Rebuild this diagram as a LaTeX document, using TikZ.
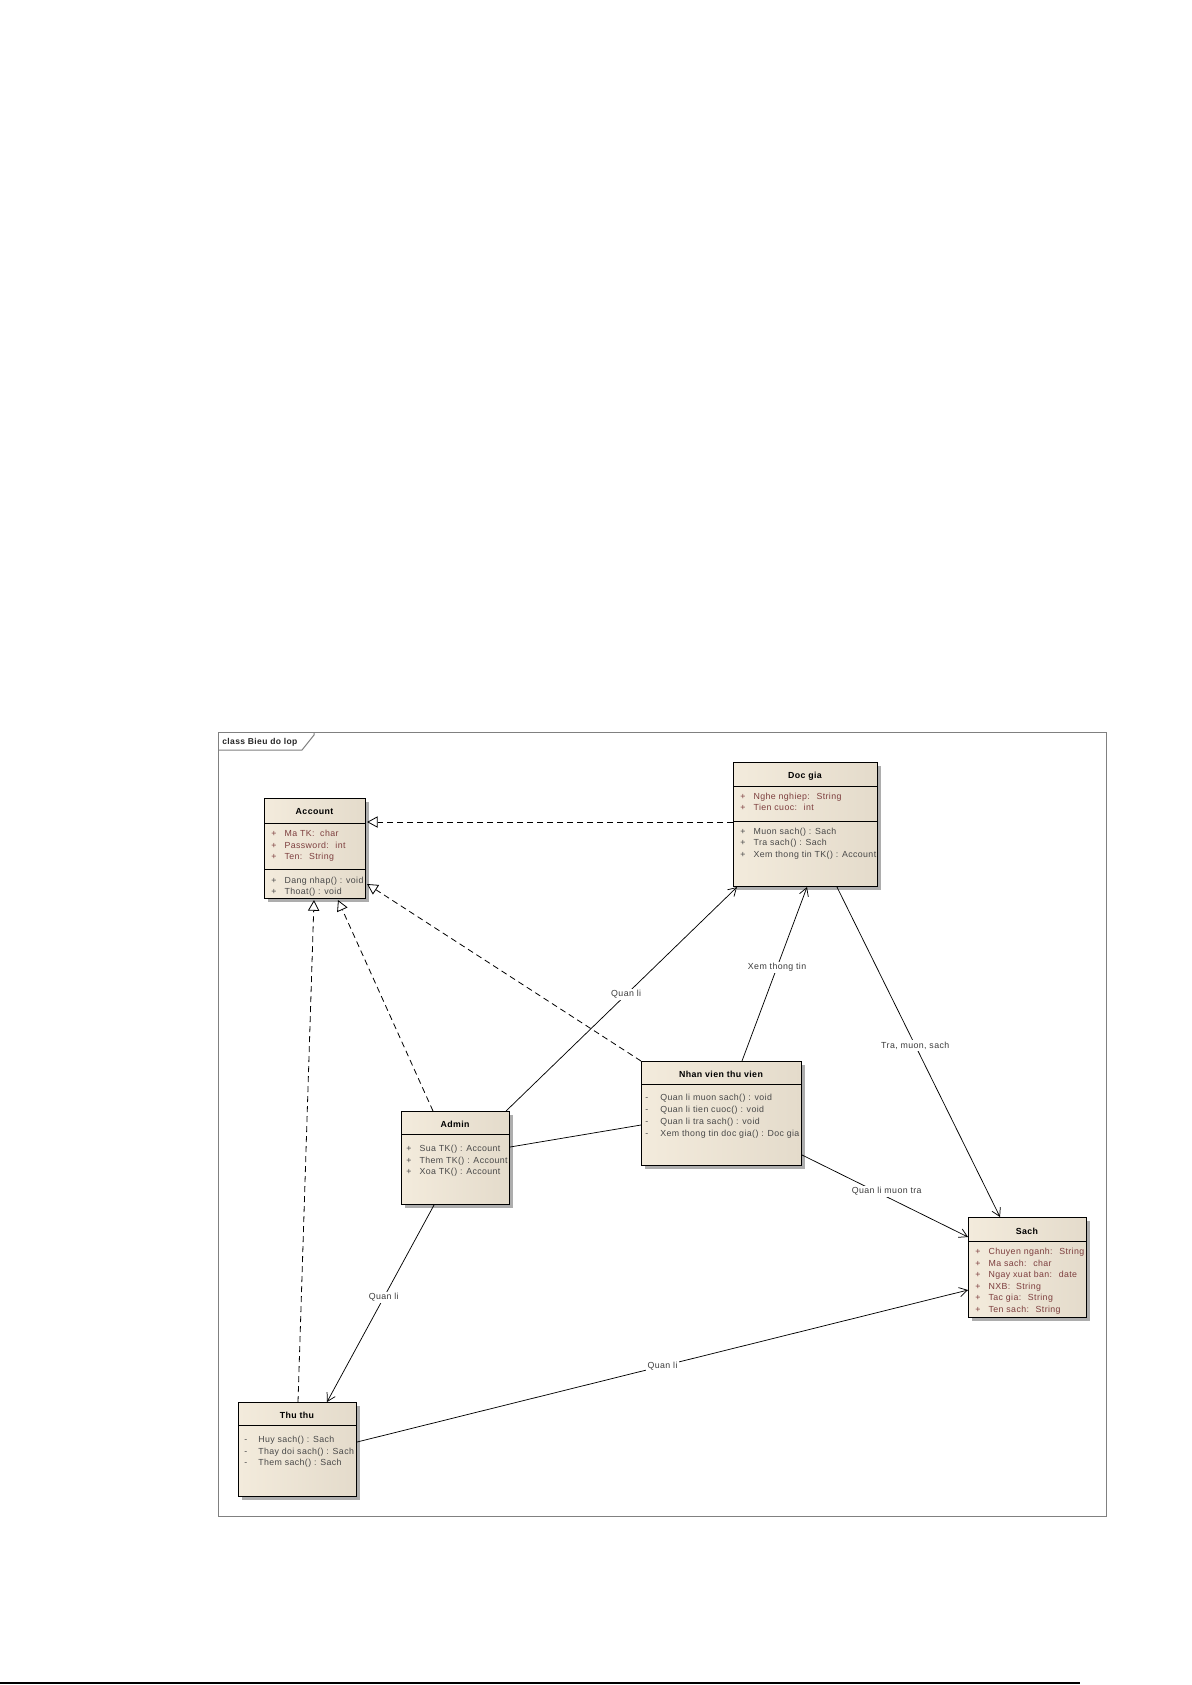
\documentclass[tikz,border=0pt]{standalone}
\usepackage{fontspec}
\setmainfont{Liberation Sans}[LetterSpace=4.5]
\usetikzlibrary{arrows.meta,shadows,calc}
\definecolor{boxL}{RGB}{243,235,220}
\definecolor{boxM}{RGB}{250,244,233}
\definecolor{boxR}{RGB}{228,219,203}
\definecolor{attrc}{RGB}{125,62,62}
\definecolor{opc}{RGB}{72,72,72}
\definecolor{framec}{RGB}{128,128,128}
\definecolor{labc}{RGB}{60,60,60}
\tikzset{
  cls/.style={draw=black, line width=0.8pt, rectangle, anchor=north west, inner sep=0pt,
    left color=boxL, middle color=boxM, right color=boxR,
    drop shadow={shadow xshift=2.6pt, shadow yshift=-2.6pt, fill=black!40, opacity=0.8}},
  cname/.style={font=\fontsize{6.6}{7}\selectfont\bfseries, text=black, inner sep=0pt, anchor=mid},
  attrrow/.style={font=\fontsize{6.6}{7}\selectfont, text=attrc, inner sep=0pt, anchor=mid west},
  oprow/.style={font=\fontsize{6.6}{7}\selectfont, text=opc, inner sep=0pt, anchor=mid west},
  sepline/.style={draw=black, line width=0.7pt},
  assoc/.style={draw=black, line width=0.55pt, -{Straight Barb[length=6pt,width=7pt,line width=0.55pt]}},
  plainassoc/.style={draw=black, line width=0.55pt},
  realize/.style={draw=black, line width=0.6pt, dash pattern=on 4.5pt off 3pt,
    -{Triangle[open,length=8pt,width=8.5pt,fill=white,line width=0.6pt]}},
  lab/.style={font=\fontsize{6.6}{7}\selectfont, text=labc, fill=white, inner sep=1pt}
}
\newcommand{\mk}[1]{\makebox[10pt][l]{#1}}
\begin{document}
\begin{tikzpicture}[x=0.75pt,y=-0.75pt]
\useasboundingbox (0,0) rectangle (1192,1685);
\fill[white] (0,0) rectangle (1192,1685);

% frame
\draw[framec, line width=0.75pt] (218,732) rectangle (1106,1516);
\draw[framec, line width=0.75pt] (218,750) -- (302,750) -- (314,735) -- (314,732);
\node[font=\fontsize{6.4}{7}\selectfont\bfseries, text=black!85, inner sep=0pt, anchor=mid west] (ftitle) at (222,741) {class Bieu do lop};

% Account
\node[cls, minimum width=75.75pt, minimum height=75pt] (acc) at (264,798) {};
\draw[sepline] (264,823) -- (365,823);
\draw[sepline] (264,869) -- (365,869);
\node[cname] (accn) at (314.5,811) {Account};
\node[attrrow] (acca1) at (271,833) {\mk{+}Ma TK:~ char};
\node[attrrow] (acca2) at (271,844.5) {\mk{+}Password:~ int};
\node[attrrow] (acca3) at (271,856) {\mk{+}Ten:~ String};
\node[oprow] (acco1) at (271,879.5) {\mk{+}Dang nhap() : void};
\node[oprow] (acco2) at (271,891) {\mk{+}Thoat() : void};

% Doc gia
\node[cls, minimum width=108pt, minimum height=93pt] (dg) at (733,762) {};
\draw[sepline] (733,786) -- (877,786);
\draw[sepline] (733,821) -- (877,821);
\node[cname] (dgn) at (805,775) {Doc gia};
\node[attrrow] (dga1) at (740,795.5) {\mk{+}Nghe nghiep:~ String};
\node[attrrow] (dga2) at (740,807) {\mk{+}Tien cuoc:~ int};
\node[oprow] (dgo1) at (740,830.5) {\mk{+}Muon sach() : Sach};
\node[oprow] (dgo2) at (740,842) {\mk{+}Tra sach() : Sach};
\node[oprow] (dgo3) at (740,853.5) {\mk{+}Xem thong tin TK() : Account};

% Admin
\node[cls, minimum width=81pt, minimum height=69.75pt] (adm) at (401,1111) {};
\draw[sepline] (401,1134) -- (509,1134);
\node[cname] (admn) at (455,1124) {Admin};
\node[oprow] (admo1) at (406,1148) {\mk{+}Sua TK() : Account};
\node[oprow] (admo2) at (406,1159.5) {\mk{+}Them TK() : Account};
\node[oprow] (admo3) at (406,1171) {\mk{+}Xoa TK() : Account};

% Nhan vien thu vien
\node[cls, minimum width=120pt, minimum height=78pt] (nv) at (641,1061) {};
\draw[sepline] (641,1084) -- (801,1084);
\node[cname] (nvn) at (721,1074) {Nhan vien thu vien};
\node[oprow] (nvo1) at (645,1097) {\makebox[11.3pt][l]{-}Quan li muon sach() : void};
\node[oprow] (nvo2) at (645,1109) {\makebox[11.3pt][l]{-}Quan li tien cuoc() : void};
\node[oprow] (nvo3) at (645,1121) {\makebox[11.3pt][l]{-}Quan li tra sach() : void};
\node[oprow] (nvo4) at (645,1133) {\makebox[11.3pt][l]{-}Xem thong tin doc gia() : Doc gia};

% Sach
\node[cls, minimum width=88.5pt, minimum height=75pt] (sach) at (968,1217) {};
\draw[sepline] (968,1241) -- (1086,1241);
\node[cname] (sachn) at (1027,1231) {Sach};
\node[attrrow] (sa1) at (975,1251) {\mk{+}Chuyen nganh:~ String};
\node[attrrow] (sa2) at (975,1262.5) {\mk{+}Ma sach:~ char};
\node[attrrow] (sa3) at (975,1274) {\mk{+}Ngay xuat ban:~ date};
\node[attrrow] (sa4) at (975,1285.5) {\mk{+}NXB:~ String};
\node[attrrow] (sa5) at (975,1297) {\mk{+}Tac gia:~ String};
\node[attrrow] (sa6) at (975,1308.5) {\mk{+}Ten sach:~ String};

% Thu thu
\node[cls, minimum width=88.5pt, minimum height=70.5pt] (tt) at (238,1402) {};
\draw[sepline] (238,1425) -- (356,1425);
\node[cname] (ttn) at (297,1415) {Thu thu};
\node[oprow] (tto1) at (244,1439) {\makebox[10.5pt][l]{-}Huy sach() : Sach};
\node[oprow] (tto2) at (244,1450.5) {\makebox[10.5pt][l]{-}Thay doi sach() : Sach};
\node[oprow] (tto3) at (244,1462) {\makebox[10.5pt][l]{-}Them sach() : Sach};

% realizations
\draw[realize] ($(dg.north west)+(0,60)$) -- ($(acc.north east)+(1,24)$);
\draw[realize] (nv.north west) -- ($(acc.north east)+(1,86)$);
\draw[realize] ($(adm.north west)+(32,0)$) -- ($(acc.south west)+(74,1)$);
\draw[realize] ($(tt.north west)+(60,0)$) -- ($(acc.south west)+(50,1)$);

% associations
\draw[assoc] ($(adm.north east)+(-4,0)$) -- node[lab, pos=0.52] (l1) {Quan li} ($(dg.south west)+(4,0)$);
\draw[assoc] ($(nv.north west)+(101,0)$) -- node[lab, pos=0.54] (l2) {Xem thong tin} ($(dg.south west)+(74,0)$);
\draw[assoc] ($(dg.south west)+(104,0)$) -- node[lab, pos=0.48] (l3) {Tra, muon, sach} ($(sach.north west)+(32,0)$);
\draw[plainassoc] ($(adm.north east)+(0,36)$) -- ($(nv.north west)+(0,64)$);
\draw[assoc] ($(nv.north east)+(0,94)$) -- node[lab, pos=0.51, yshift=4pt] (l4) {Quan li muon tra} ($(sach.north west)+(0,20)$);
\draw[assoc] ($(adm.south west)+(33,0)$) -- node[lab, pos=0.47] (l5) {Quan li} ($(tt.north west)+(89,0)$);
\draw[assoc] ($(tt.north east)+(0,40)$) -- node[lab, pos=0.5] (l6) {Quan li} ($(sach.north west)+(0,73)$);

% page rule at bottom
\draw[black, line width=1.2pt] (0,1683) -- (1080,1683);
\end{tikzpicture}
\end{document}
